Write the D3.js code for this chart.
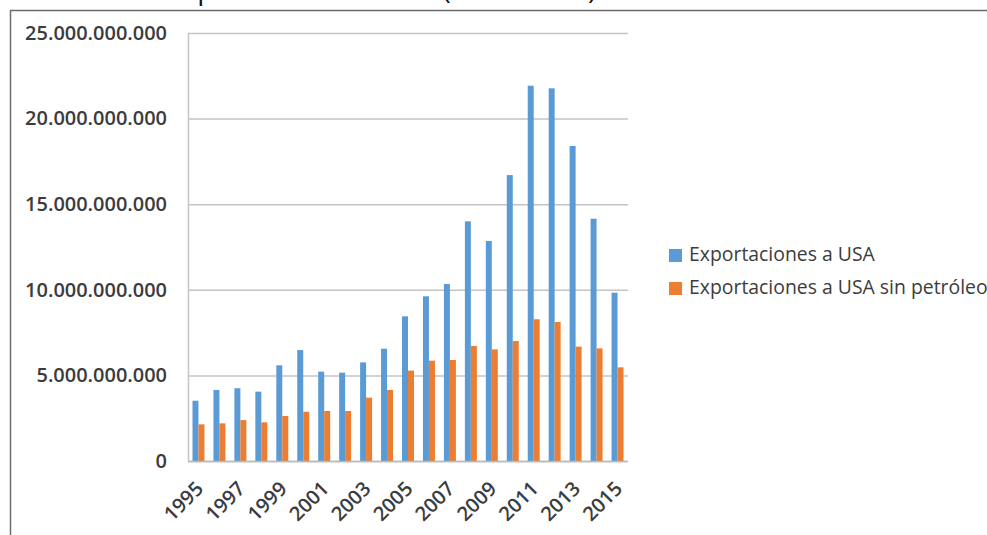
<!DOCTYPE html>
<html><head><meta charset="utf-8">
<script src="https://cdn.jsdelivr.net/npm/d3@7"></script>
<style>html,body{margin:0;padding:0;background:#fff;overflow:hidden}</style>
</head><body>
<svg id="c" width="987" height="535"></svg>
<script>
// ---- data ----
const years = [1995,1996,1997,1998,1999,2000,2001,2002,2003,2004,2005,2006,2007,2008,2009,2010,2011,2012,2013,2014,2015];
const exportsUSA = [3.52e9,4.15e9,4.25e9,4.05e9,5.59e9,6.48e9,5.22e9,5.16e9,5.76e9,6.56e9,8.45e9,9.62e9,10.34e9,14.0e9,12.85e9,16.7e9,21.92e9,21.77e9,18.4e9,14.15e9,9.83e9];
const exportsNoOil = [2.14e9,2.2e9,2.39e9,2.26e9,2.63e9,2.88e9,2.92e9,2.92e9,3.7e9,4.15e9,5.28e9,5.86e9,5.9e9,6.72e9,6.52e9,7.01e9,8.28e9,8.12e9,6.68e9,6.58e9,5.47e9];
const yTicks = [0,5e9,10e9,15e9,20e9,25e9];
const xTickLabels = ["1995","1997","1999","2001","2003","2005","2007","2009","2011","2013","2015"];
const seriesNames = ["Exportaciones a USA","Exportaciones a USA sin petróleo"];
const seriesColors = ["#5b9bd5","#ed7d31"];
const titleText = "Exportaciones a USA (en dólares)";

(function(){
const svg = d3.select("#c");
const FONT = "'Open Sans', sans-serif";
const TXT = "#3c3c3c";

function fit(sel, target){
  const node = sel.node();
  const fs = parseFloat(sel.attr("font-size"));
  const w = node.getComputedTextLength();
  return fs * target / w;
}

// frame
svg.append("line").attr("x1",10).attr("x2",987).attr("y1",10.5).attr("y2",10.5).attr("stroke","#6b6b6b").attr("stroke-width",1.5);
svg.append("line").attr("x1",10.5).attr("x2",10.5).attr("y1",10).attr("y2",535).attr("stroke","#6b6b6b").attr("stroke-width",1.5);

// title (mostly cut off above the frame, as in the reference)
svg.append("text").attr("x",167).attr("y",-1).attr("font-family",FONT).attr("font-size",28).attr("fill","#111").text(titleText);

const pL = 188, pR = 628, pT = 33, pB = 461;
const x = d3.scaleBand().domain(years).range([pL,pR]).padding(0);
const xi = d3.scaleBand().domain([0,1]).range([0,x.bandwidth()]).paddingInner(0).paddingOuter(0.75);
const y = d3.scaleLinear().domain([0,25e9]).range([pB,pT]);

const fmt = v => d3.format(",")(v).replace(/,/g,".");

// y axis with gridlines
const ya = svg.append("g").attr("transform",`translate(${pL},0)`)
  .call(d3.axisLeft(y).tickValues(yTicks).tickSize(-(pR-pL)).tickPadding(21).tickFormat(fmt));
ya.select(".domain").remove();
ya.selectAll("line").attr("stroke","#c4c4c4").attr("stroke-width",1.5);
ya.selectAll("text").attr("font-family",FONT).attr("font-weight",600).attr("fill",TXT).attr("font-size",20);
{
  const t = ya.selectAll("text").filter(d=>d===25e9);
  const fs = fit(t,142);
  ya.selectAll("text").attr("font-size",fs);
}
// left plot border
svg.append("line").attr("x1",pL+0.5).attr("x2",pL+0.5).attr("y1",pT).attr("y2",pB).attr("stroke","#c4c4c4").attr("stroke-width",1.5);

// bars
const series = [exportsUSA, exportsNoOil];
series.forEach((vals,si)=>{
  svg.append("g").selectAll("rect").data(years).join("rect")
    .attr("x",(d)=>x(d)+xi(si))
    .attr("width",xi.bandwidth())
    .attr("y",(d,i)=>y(vals[i]))
    .attr("height",(d,i)=>y(0)-y(vals[i]))
    .attr("fill",seriesColors[si]);
});

// bottom axis line
svg.append("line").attr("x1",pL).attr("x2",pR).attr("y1",pB+0.5).attr("y2",pB+0.5).attr("stroke","#b8b8b8").attr("stroke-width",1.5);

// x labels
const xa = svg.append("g").attr("transform",`translate(0,${pB})`)
  .call(d3.axisBottom(x).tickValues(xTickLabels.map(Number)).tickSize(0).tickFormat(d=>String(d)));
xa.select(".domain").remove();
xa.selectAll("text")
  .attr("font-family",FONT).attr("font-weight",600).attr("fill",TXT).attr("font-size",20)
  .attr("text-anchor","end")
  .attr("x",0).attr("y",0).attr("dy",null)
  .attr("transform","translate(6,29) rotate(-45)");

// legend
const lg = svg.append("g");
seriesNames.forEach((n,i)=>{
  const yy = 249 + i*33;
  lg.append("rect").attr("x",669).attr("y",yy).attr("width",13).attr("height",13).attr("fill",seriesColors[i]);
  lg.append("text").attr("x",689).attr("y",yy+12).attr("font-family",FONT).attr("font-weight",500).attr("font-size",17).attr("fill",TXT).text(n);
});
{
  const t = lg.selectAll("text").filter((d,i)=>i===0);
  const fs = fit(t,186);
  lg.selectAll("text").attr("font-size",fs);
}
})();
</script>
</body></html>
